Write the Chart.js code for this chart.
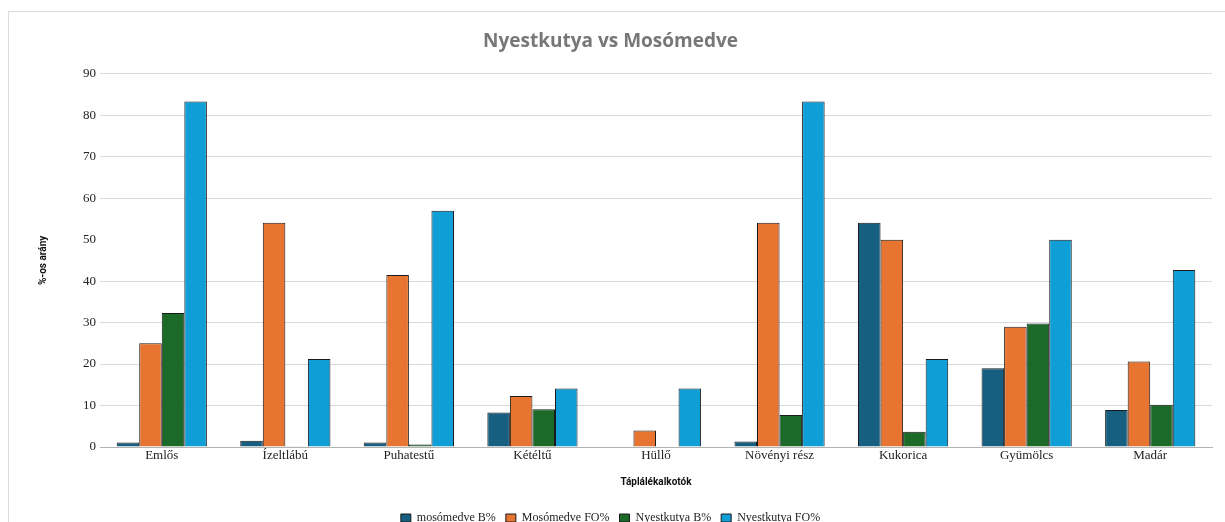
<!DOCTYPE html>
<html>
<head>
<meta charset="utf-8">
<script src="https://cdn.jsdelivr.net/npm/chart.js@4.4.0/dist/chart.umd.min.js"></script>
<style>
  html, body { margin: 0; padding: 0; background: #fff; overflow: hidden; }
  #frame {
    position: absolute; left: 8px; top: 11px;
    width: 1217px; height: 530px;
    border-top: 1px solid #dcdcdc; border-left: 1px solid #dcdcdc;
  }
  #frame canvas { display: block; }
</style>
</head>
<body>
<div id="frame"><canvas id="dietChart" width="1216" height="529"></canvas></div>
<script>
// categories and series
const categories = ['Emlős', 'Ízeltlábú', 'Puhatestű', 'Kétéltű', 'Hüllő', 'Növényi rész', 'Kukorica', 'Gyümölcs', 'Madár'];
const seriesNames = ['mosómedve B%', 'Mosómedve FO%', 'Nyestkutya B%', 'Nyestkutya FO%'];
const mosomedveB = [1.1, 1.5, 1.1, 8.3, 0.1, 1.3, 54.1, 19.0, 8.9];
const mosomedveFO = [25.0, 54.1, 41.5, 12.3, 4.0, 54.1, 50.0, 29.0, 20.6];
const nyestkutyaB = [32.3, 0.2, 0.6, 9.1, 0.1, 7.7, 3.7, 29.8, 10.2];
const nyestkutyaFO = [83.3, 21.2, 57.0, 14.1, 14.1, 83.3, 21.2, 50.0, 42.7];
const yMin = 0, yMax = 90, yStep = 10;

const colors = ['#165f80', '#e87431', '#1b6a27', '#0f9fd6'];
const serif = "'Liberation Serif', 'DejaVu Serif', serif";

document.addEventListener('DOMContentLoaded', function () {
    const values = [mosomedveB, mosomedveFO, nyestkutyaB, nyestkutyaFO];

    new Chart(document.getElementById('dietChart'), {
        type: 'bar',
        data: {
            labels: categories,
            datasets: values.map((v, i) => ({
                label: seriesNames[i],
                data: v,
                backgroundColor: colors[i],
                borderColor: '#1a1a1a',
                borderWidth: 1,
                categoryPercentage: 0.73,
                barPercentage: 1.0
            }))
        },
        options: {
            responsive: false,
            animation: false,
            layout: { padding: { left: 0, right: 13, top: 0, bottom: 7 } },
            plugins: {
                title: {
                    display: true,
                    text: 'Nyestkutya vs Mosómedve',
                    color: '#777777',
                    font: { family: "'Open Sans', sans-serif", size: 19, weight: 'bold' },
                    padding: { top: 18, bottom: 21 }
                },
                legend: {
                    position: 'bottom',
                    labels: {
                        boxWidth: 10,
                        boxHeight: 8,
                        padding: 10,
                        color: '#222',
                        font: { family: serif, size: 12 }
                    }
                },
                tooltip: { enabled: false }
            },
            scales: {
                x: {
                    grid: { display: false, drawTicks: false },
                    border: { display: true, color: '#b3b3b3', width: 1 },
                    ticks: { color: '#222', font: { family: serif, size: 13 }, padding: 1 },
                    title: {
                        display: true,
                        text: 'Táplálékalkotók',
                        color: '#111',
                        font: { family: "Roboto, sans-serif", size: 10, weight: 'bold' },
                        padding: { top: 8, bottom: 14 }
                    },
                    afterFit: function (scale) { scale.height = 55; }
                },
                y: {
                    min: yMin,
                    max: yMax,
                    ticks: {
                        stepSize: yStep,
                        color: '#222',
                        padding: 4,
                        font: { family: serif, size: 13 }
                    },
                    grid: {
                        drawTicks: false,
                        lineWidth: 1,
                        color: function (ctx) {
                            if (ctx.tick && ctx.tick.value === 50) return 'rgba(0,0,0,0)';
                            if (ctx.tick && ctx.tick.value === 0) return '#b3b3b3';
                            return '#d9d9d9';
                        }
                    },
                    border: { display: false },
                    title: {
                        display: true,
                        text: '%-os arány',
                        color: '#111',
                        font: { family: "'Liberation Sans Narrow', Roboto, sans-serif", size: 10, weight: 'bold' },
                        padding: { top: 28, bottom: 0 }
                    },
                    afterFit: function (scale) { scale.width = 91; }
                }
            }
        }
    });
});
</script>
</body>
</html>
